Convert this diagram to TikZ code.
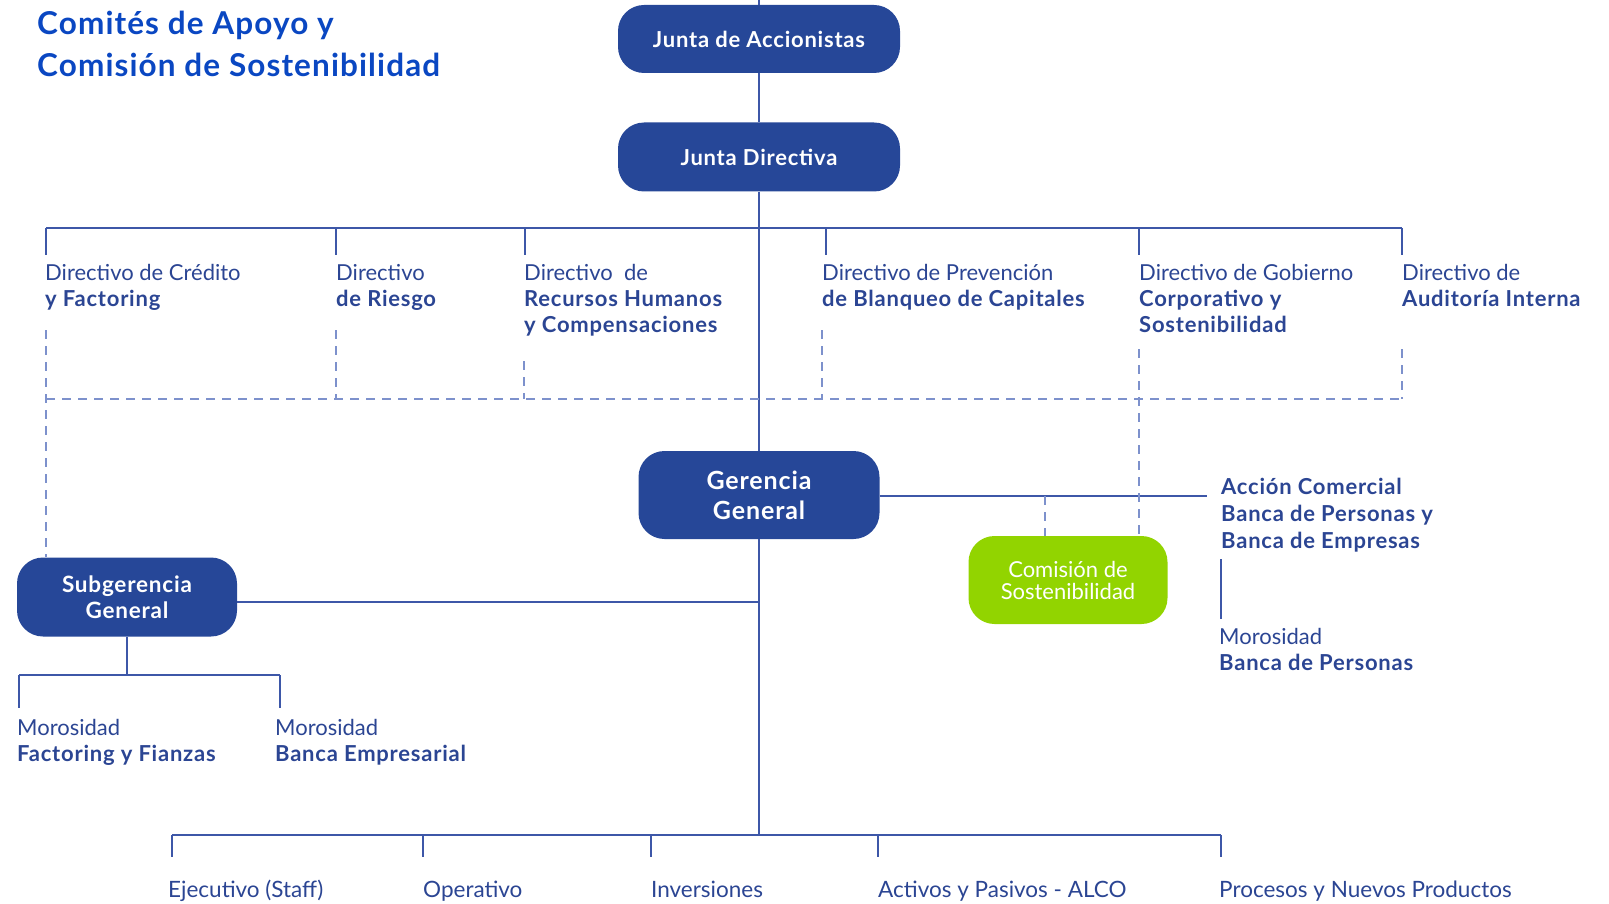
\documentclass[tikz,border=0pt]{standalone}
\usepackage{fontspec}
\setmainfont{Lato}[BoldFeatures={LetterSpace=3.5}]
\definecolor{boxblue}{RGB}{38,71,152}
\definecolor{lineblue}{RGB}{61,87,168}
\definecolor{dashblue}{RGB}{125,145,204}
\definecolor{textblue}{RGB}{43,69,147}
\definecolor{titleblue}{RGB}{10,71,194}
\definecolor{sgreen}{RGB}{146,212,0}
\newcommand\lines[1]{\begin{tabular}[t]{@{}l@{}}#1\end{tabular}}
\begin{document}
\begin{tikzpicture}[x=1pt,y=-1pt,
  bbox/.style={fill=boxblue,rounded corners=26pt,text=white,font=\bfseries\fontsize{22}{25}\selectfont,align=center,inner sep=0pt},
  gbox/.style={fill=sgreen,rounded corners=26pt,text=white,font=\fontsize{22}{22}\selectfont,align=center,inner sep=0pt},
  ln/.style={draw=lineblue,line width=1.3pt},
  dl/.style={draw=dashblue,line width=1.3pt,dash pattern=on 9pt off 7pt},
  lbl/.style={anchor=base west,inner sep=0pt,text=textblue,font=\fontsize{22}{26}\selectfont},
  ttl/.style={anchor=base west,inner sep=0pt,text=titleblue,font=\bfseries\fontsize{31.5}{42}\selectfont}]
\useasboundingbox (0,0) rectangle (1609,904);

% title
\node[ttl] (title) at (37,35) {\lines{Comités de Apoyo y\\Comisión de Sostenibilidad}};

% main boxes
\node[bbox,minimum width=282,minimum height=68] (ja) at (759,39) {Junta de Accionistas};
\node[bbox,minimum width=282,minimum height=69] (jd) at (759,157) {Junta Directiva};
\node[bbox,minimum width=241,minimum height=88,font=\bfseries\fontsize{25}{30}\selectfont] (gg) at (759,495) {Gerencia\\General};
\node[bbox,minimum width=220,minimum height=79,font=\bfseries\fontsize{22.5}{26}\selectfont] (sg) at (127,597) {Subgerencia\\General};
\node[gbox,minimum width=199,minimum height=88] (cs) at (1068,580) {Comisión de\\Sostenibilidad};

% coordinates
\coordinate (top) at (759,0);
\coordinate (busL) at (46,228);
\coordinate (busR) at (1402,228);
\coordinate (bot) at (759,835);
\coordinate (botL) at (172,835);
\coordinate (botR) at (1221,835);
\coordinate (sgJ) at (759,602);
\coordinate (ggR) at (1207,496);
\coordinate (sgL) at (19,675);
\coordinate (sgR) at (280,675);
\coordinate (dashL) at (46,399);
\coordinate (dashR) at (1402,399);

% solid connectors
\draw[ln] (top) -- (ja.north);
\draw[ln] (ja.south) -- (jd.north);
\draw[ln] (jd.south) -- (gg.north);
\draw[ln] (gg.south) -- (bot);
\draw[ln] (busL) -- (busR);
\foreach \x in {46,336,525,826,1139,1402} \draw[ln] (\x,228) -- (\x,255);
\draw[ln] (gg.east |- ggR) -- (ggR);
\draw[ln] (sg.east |- sgJ) -- (sgJ);
\draw[ln] (sg.south) -- (sg.south |- sgL);
\draw[ln] (sgL) -- (sgR);
\draw[ln] (sgL) -- ++(0,33);
\draw[ln] (sgR) -- ++(0,33);
\draw[ln] (botL) -- (botR);
\foreach \x in {172,423,651,878,1221} \draw[ln] (\x,835) -- (\x,857);
\coordinate (acB1) at (1221,559);
\coordinate (acB2) at (1221,619);
\draw[ln] (acB1) -- (acB2);

% dashed connectors
\draw[dl] (dashL) -- (dashR);
\draw[dl] (46,330) -- (sg.north -| 46,0);
\draw[dl] (336,330) -- (336,399);
\draw[dl] (524,361) -- (524,399);
\draw[dl] (822,330) -- (822,399);
\draw[dl] (1139,349) -- (cs.north -| 1139,0);
\draw[dl] (1402,349) -- (1402,399);
\draw[dl] (1045,496) -- (cs.north -| 1045,0);

% directivo labels
\node[lbl] (d1) at (45,280) {\lines{Directivo de Crédito\\\textbf{y Factoring}}};
\node[lbl] (d2) at (336,280) {\lines{Directivo\\\textbf{de Riesgo}}};
\node[lbl] (d3) at (524,280) {\lines{Directivo\ \ de\\\textbf{Recursos Humanos}\\\textbf{y Compensaciones}}};
\node[lbl] (d4) at (822,280) {\lines{Directivo de Prevención\\\textbf{de Blanqueo de Capitales}}};
\node[lbl] (d5) at (1139,280) {\lines{Directivo de Gobierno\\\textbf{Corporativo y}\\\textbf{Sostenibilidad}}};
\node[lbl] (d6) at (1402,280) {\lines{Directivo de\\\textbf{Auditoría Interna}}};

% right labels
\node[lbl,font=\bfseries\fontsize{22}{27}\selectfont] (ac) at (1221,494) {\lines{Acción Comercial\\Banca de Personas y\\Banca de Empresas}};
\node[lbl] (mbp) at (1219,644) {\lines{Morosidad\\\textbf{Banca de Personas}}};

% subgerencia labels
\node[lbl] (mf) at (17,735) {\lines{Morosidad\\\textbf{Factoring y Fianzas}}};
\node[lbl] (mb) at (275,735) {\lines{Morosidad\\\textbf{Banca Empresarial}}};

% bottom labels
\node[lbl,font=\fontsize{22.5}{26}\selectfont] (b1) at (168,897) {Ejecutivo (Staff)};
\node[lbl,font=\fontsize{22.5}{26}\selectfont] (b2) at (423,897) {Operativo};
\node[lbl,font=\fontsize{22.5}{26}\selectfont] (b3) at (651,897) {Inversiones};
\node[lbl,font=\fontsize{22.5}{26}\selectfont] (b4) at (878,897) {Activos y Pasivos - ALCO};
\node[lbl,font=\fontsize{22.5}{26}\selectfont] (b5) at (1219,897) {Procesos y Nuevos Productos};
\end{tikzpicture}
\end{document}
